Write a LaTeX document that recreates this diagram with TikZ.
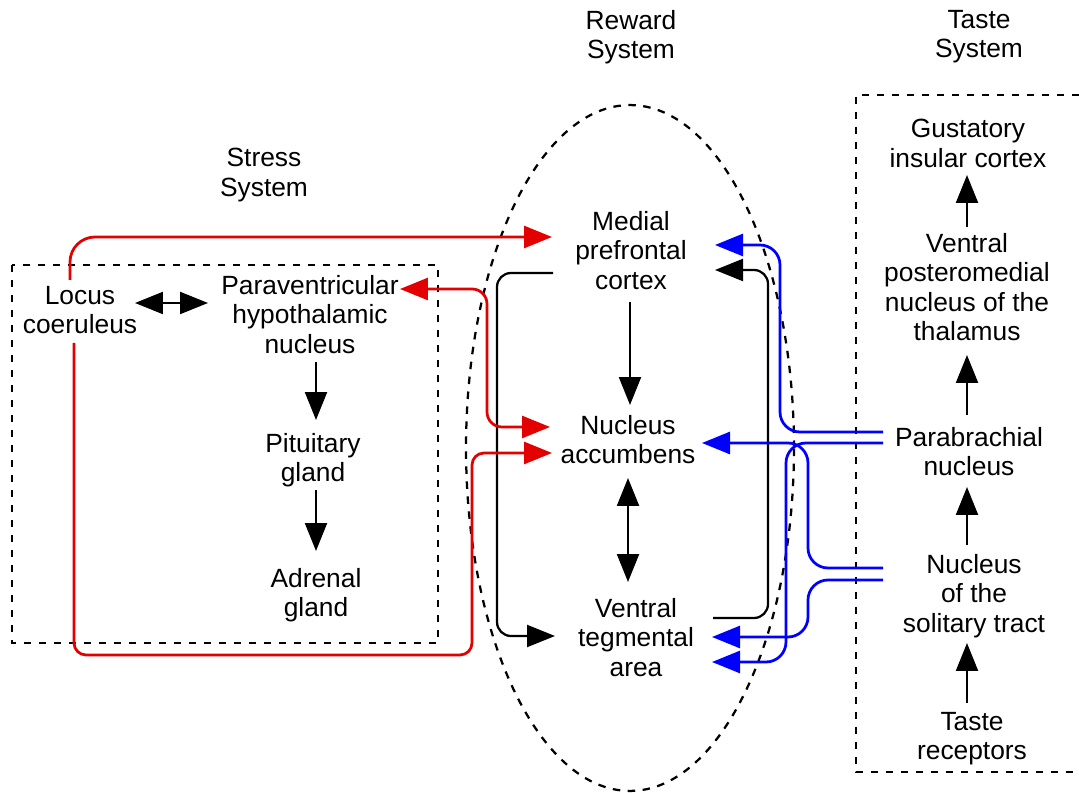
\documentclass[tikz,border=0pt]{standalone}
\usepackage{fontspec}
\setmainfont{Liberation Sans}
\usetikzlibrary{arrows.meta,calc}
\definecolor{stressred}{RGB}{226,0,0}
\definecolor{tasteblue}{RGB}{0,0,255}
\begin{document}
\begin{tikzpicture}[x=0.02cm,y=-0.02cm,
  lbl/.style={anchor=north, align=center, inner sep=0pt,
    font=\fontsize{15pt}{16.8pt}\selectfont},
  bigtip/.tip={Triangle[length=0.56cm,width=0.44cm]},
  link/.style={line width=0.045cm, -{bigtip}},
  both/.style={line width=0.045cm, {bigtip}-{bigtip}},
  redlink/.style={line width=0.055cm, stressred},
  bluelink/.style={line width=0.055cm, tasteblue, rounded corners=0.4cm, -{bigtip}},
  region/.style={line width=0.045cm, dash pattern=on 0.15cm off 0.15cm}
]
\path[use as bounding box] (0,0) rectangle (1079,793);

% system outlines
\draw[region] (12,265) rectangle (438,643);
\draw[region] (630,448) ellipse [x radius=3.28cm, y radius=6.86cm];
\draw[region] (1079,95) -- (856,95) -- (856,772) -- (1079,772);

% system titles
\node[lbl] (tRew) at (631,10) {Reward\\System};
\node[lbl] (tTas) at (979,10) {Taste\\System};
\node[lbl] (tStr) at (264,148) {Stress\\System};

% stress system
\node[lbl] (lc)  at (80,286)  {Locus\\coeruleus};
\node[lbl] (pvn) at (310,275) {Paraventricular\\hypothalamic\\nucleus};
\node[lbl] (pit) at (313,433) {Pituitary\\gland};
\node[lbl] (adr) at (316,568) {Adrenal\\gland};

% reward system
\node[lbl] (mpfc) at (631,211) {Medial\\prefrontal\\cortex};
\node[lbl] (nac)  at (628,415) {Nucleus\\accumbens};
\node[lbl] (vta)  at (636,598) {Ventral\\tegmental\\area};

% taste system
\node[lbl] (gic) at (968,119) {Gustatory\\insular cortex};
\node[lbl] (vpm) at (967,233) {Ventral\\posteromedial\\nucleus of the\\thalamus};
\node[lbl] (pb)  at (969,427) {Parabrachial\\nucleus};
\node[lbl] (nts) at (974,554) {Nucleus\\of the\\solitary tract};
\node[lbl] (tr)  at (972,712) {Taste\\receptors};

% straight black connections
\draw[both] ($(lc.north)+(55,17)$) -- ($(pvn.north)+(-102,28)$);
\draw[link] ($(pvn.north)+(6,87)$) -- ($(pit.north)+(3,-13)$);
\draw[link] ($(pit.north)+(3,57)$) -- ($(adr.north)+(0,-17)$);
\draw[link] ($(mpfc.north)+(-1,91)$) -- ($(nac.north)+(2,-10)$);
\draw[both] ($(nac.north)+(0,63)$) -- ($(vta.north)+(-8,-16)$);
\draw[link] ($(tr.north)+(-5,-9)$) -- ($(nts.north)+(-7,89)$);
\draw[link] ($(nts.north)+(-7,-9)$) -- ($(pb.north)+(-2,60)$);
\draw[link] ($(pb.north)+(-2,-12)$) -- ($(vpm.north)+(0,122)$);
\draw[link] ($(vpm.north)+(0,-6)$) -- ($(gic.north)+(-1,56)$);

% black loops between prefrontal cortex and tegmental area
\draw[link, rounded corners=0.28cm]
  ($(mpfc.north)+(-78,62)$) -| ($(vta.north)+(-139,38)$) -- ($(vta.north)+(-81,38)$);
\draw[link, rounded corners=0.28cm]
  ($(vta.north)+(77,20)$) -| ($(mpfc.north)+(137,59)$) -- ($(mpfc.north)+(84,59)$);

% stress-system outputs (red)
\draw[redlink, rounded corners=0.5cm, -{bigtip}]
  ($(lc.north)+(-10,-6)$) |- ($(mpfc.north)+(-79,26)$);
\draw[redlink, rounded corners=0.24cm, -{bigtip}]
  ($(lc.north)+(-6,57)$) |- ($(nac.north)+(-156,240)$)
  |- ($(nac.north)+(-76,38)$);
\draw[redlink, rounded corners=0.3cm, {bigtip}-{bigtip}]
  ($(pvn.north)+(90,14)$) -| ($(nac.north)+(-141,12)$) -- ($(nac.north)+(-78,12)$);

% taste-system outputs (blue)
\draw[bluelink]
  ($(pb.north)+(-86,5)$) -| ($(mpfc.north)+(149,34)$) -- ($(mpfc.north)+(84,34)$);
\draw[bluelink]
  ($(pb.north)+(-86,16)$) -| ($(vta.north)+(150,64)$) -- ($(vta.north)+(76,64)$);
\draw[bluelink]
  ($(nts.north)+(-91,14)$) -| ($(nac.north)+(180,28)$) -- ($(nac.north)+(74,28)$);
\draw[bluelink]
  ($(nts.north)+(-91,26)$) -| ($(vta.north)+(172,39)$) -- ($(vta.north)+(76,39)$);
\end{tikzpicture}
\end{document}
